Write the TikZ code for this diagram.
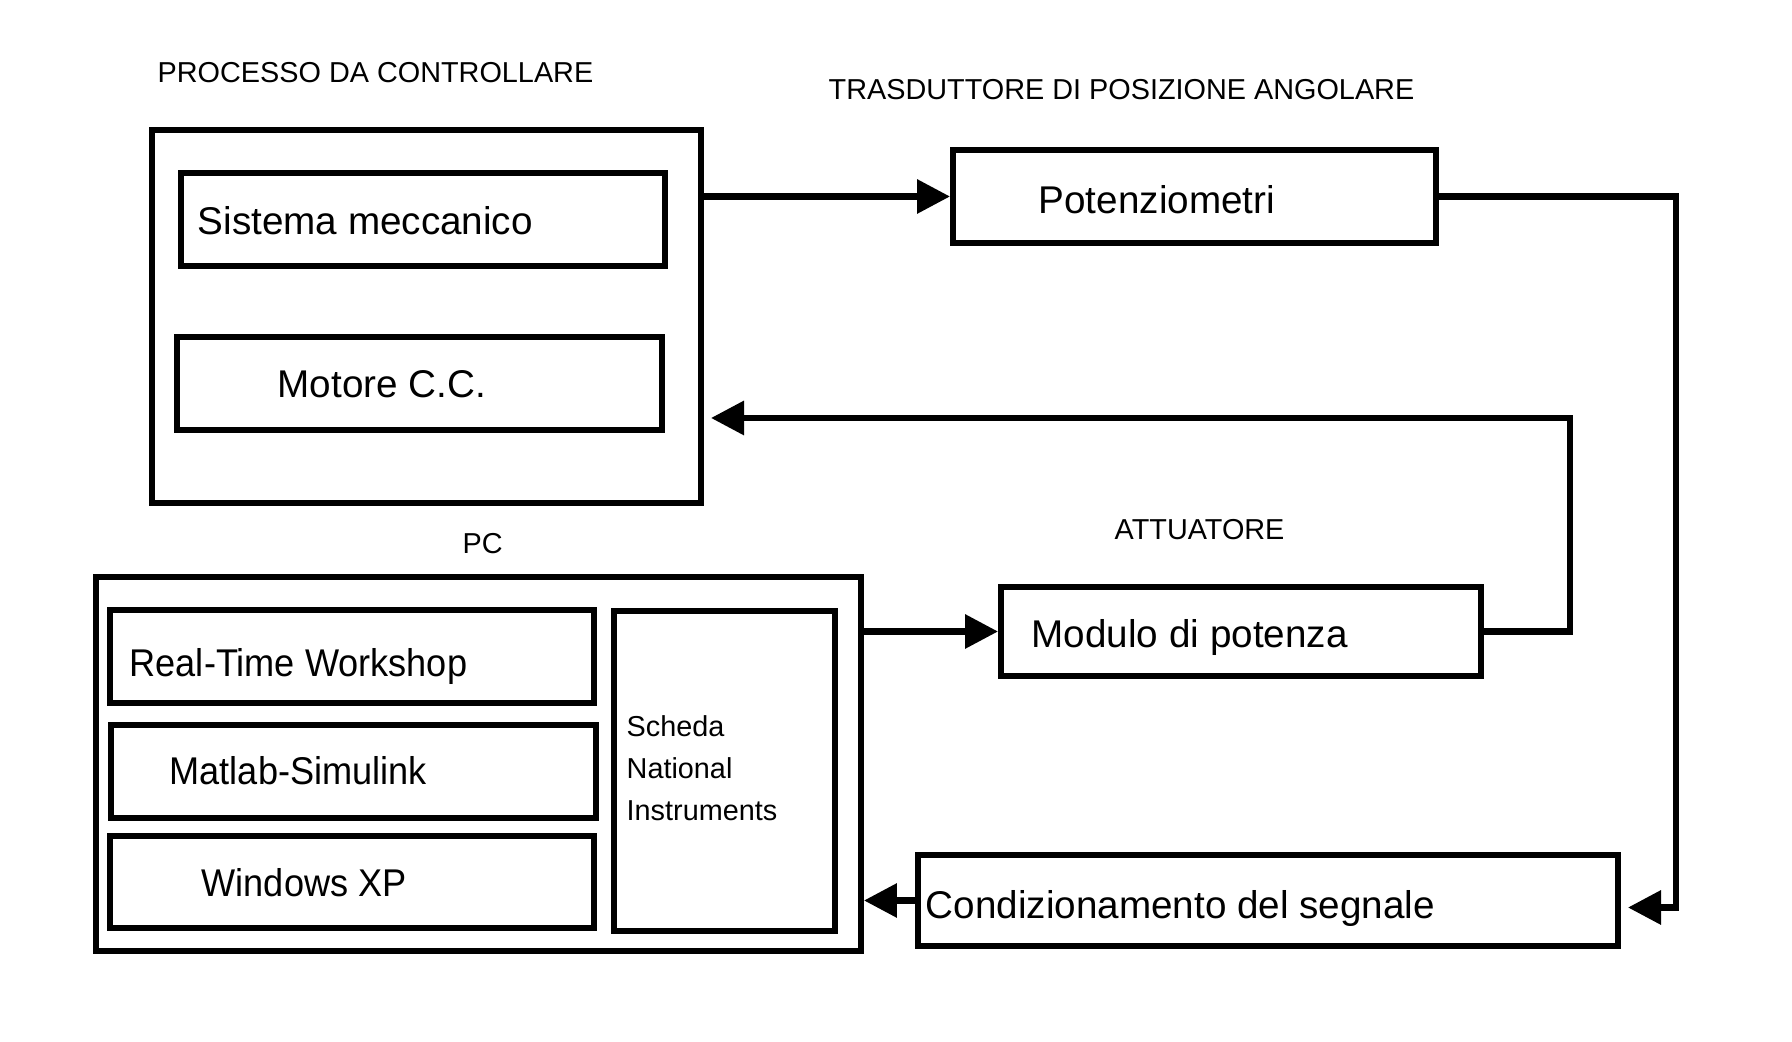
\documentclass[tikz,border=0pt]{standalone}
\usepackage{fontspec}
\setmainfont{Liberation Sans}
\usepackage{tikz}
\usetikzlibrary{calc}
\usetikzlibrary{positioning}
\usetikzlibrary{arrows.meta}

\tikzset{
	box/.style={draw, line width=1.7pt, inner sep=0pt},
	lbl/.style={anchor=base west, inner sep=0pt, font=\fontsize{11}{13}\selectfont},
	narrowlbl/.style={lbl, font=\fontsize{11}{13}\selectfont\addfontfeature{FakeStretch=0.935}},
	heading/.style={anchor=base west, inner sep=0pt, font=\fontsize{8.2}{12}\selectfont},
	arr/.style={line width=1.8pt, -{Triangle[length=0.33cm,width=0.33cm]}}
}

\begin{document}
\begin{tikzpicture}
			\useasboundingbox (0,0) rectangle (17.92,10.42);
			
			% processo da controllare
			\node[box, minimum width=5.49cm, minimum height=3.73cm] (proc) at (4.265,7.255) {};
			\node[box, minimum width=4.84cm, minimum height=0.93cm] (sismec) at (4.23,8.225) {};
			\node[box, minimum width=4.85cm, minimum height=0.93cm] (motore) at (4.195,6.585) {};
			\node[heading] (tproc) at (1.57,9.59) {PROCESSO DA CONTROLLARE};
			\node[lbl] (tsismec) at (1.97,8.07) {Sistema meccanico};
			\node[lbl] (tmotore) at (2.77,6.445) {Motore C.C.};
			
			% trasduttore
			\node[box, minimum width=4.83cm, minimum height=0.93cm] (poten) at (11.945,8.455) {};
			\node[heading] (ttrasd) at (8.28,9.42) {TRASDUTTORE DI POSIZIONE ANGOLARE};
			\node[lbl] (tpoten) at (10.38,8.285) {Potenziometri};
			
			% attuatore
			\node[box, minimum width=4.80cm, minimum height=0.89cm] (modulo) at (12.41,4.105) {};
			\node[heading] (tatt) at (11.14,5.02) {ATTUATORE};
			\node[lbl] (tmodulo) at (10.31,3.94) {Modulo di potenza};
			
			% condizionamento
			\node[box, minimum width=7.00cm, minimum height=0.91cm] (cond) at (12.68,1.415) {};
			\node[lbl] (tcond) at (9.25,1.235) {Condizionamento del segnale};
			
			% PC
			\node[box, minimum width=7.65cm, minimum height=3.74cm] (pc) at (4.785,2.78) {};
			\node[box, minimum width=4.84cm, minimum height=0.93cm] (rtw) at (3.52,3.855) {};
			\node[box, minimum width=4.85cm, minimum height=0.93cm] (matlab) at (3.535,2.705) {};
			\node[box, minimum width=4.84cm, minimum height=0.92cm] (winxp) at (3.52,1.60) {};
			\node[box, minimum width=2.21cm, minimum height=3.20cm] (scheda) at (7.245,2.71) {};
			\node[heading] (tpc) at (4.62,4.88) {PC};
			\node[narrowlbl] (trtw) at (1.29,3.655) {Real-Time Workshop};
			\node[narrowlbl] (tmatlab) at (1.69,2.57) {Matlab-Simulink};
			\node[narrowlbl] (twinxp) at (2.01,1.45) {Windows XP};
			\node[heading, anchor=north west, align=left] (tscheda) at (6.26,3.27) {Scheda\\National\\Instruments};
			
			\coordinate (fb) at (7.11,6.24);
			
			\draw[arr] (proc.east |- poten.west) -- (poten.west);
			\draw[arr, shorten >=0.07cm] (poten.east) -- ++(2.37,0) |- ([yshift=-0.07cm]cond.east);
			\draw[arr] (modulo.east) -- ++(0.86,0) |- (fb);
			\draw[arr] (pc.east |- modulo.west) -- (modulo.west);
			\draw[arr] (cond.west) -- (pc.east |- cond.west);
		\end{tikzpicture}
\end{document}
